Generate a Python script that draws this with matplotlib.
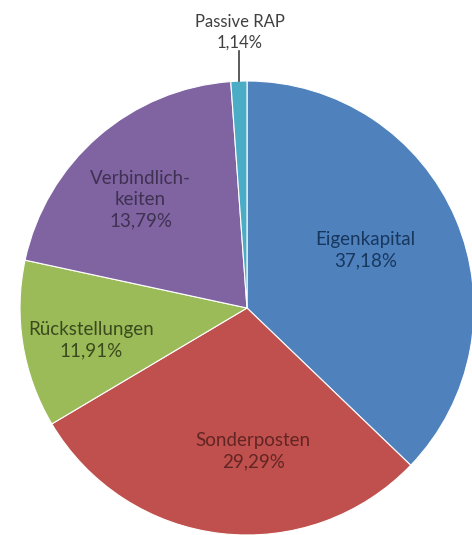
import numpy as np
import matplotlib.pyplot as plt

# slice sizes as drawn (clockwise from 12 o'clock)
categories = ["Eigenkapital", "Sonderposten", "Rückstellungen", "Verbindlichkeiten", "Passive RAP"]
values = [37.18, 29.29, 11.91, 20.48, 1.14]
label_texts = ["Eigenkapital\n37,18%", "Sonderposten\n29,29%", "Rückstellungen\n11,91%",
               "Verbindlich-\nkeiten\n13,79%", "Passive RAP\n1,14%"]

colors = ["#4F81BD", "#C0504D", "#9BBB59", "#8064A2", "#4BACC6"]
text_colors = ["#17375E", "#632523", "#3B4A1E", "#3F3151", "#404040"]

W, H = 472, 535
cx, cy, R = 247, 227, 227

fig = plt.figure(figsize=(W / 100, H / 100), dpi=100)
ax = fig.add_axes([0, 0, 1, 1])

wedges, _ = ax.pie(values, colors=colors, startangle=90, counterclock=False,
                   center=(cx, cy), radius=R, frame=True,
                   wedgeprops=dict(edgecolor="white", linewidth=0.8))
ax.set_xlim(0, W)
ax.set_ylim(0, H)
ax.set_aspect("equal")
ax.axis("off")

# label placement: (distance as fraction of radius, angle offset in degrees)
place = [(0.58, 3), (0.63, 9), (0.70, 2.5), (0.67, 3.5), (None, 0)]
for w, txt, tc, (d, off) in zip(wedges, label_texts, text_colors, place):
    mid = np.deg2rad((w.theta1 + w.theta2) / 2)
    if d is None:
        # outside label with leader line
        x0 = cx + R * np.cos(mid)
        y0 = cy + R * np.sin(mid)
        ax.plot([x0, x0], [y0, y0 + 30], color="#404040", linewidth=1.2)
        ax.text(x0 + 1, y0 + 31, txt, ha="center", va="bottom", color=tc,
                fontsize=12, family="Lato", linespacing=1.35)
        continue
    a = mid + np.deg2rad(off)
    x = cx + d * R * np.cos(a)
    y = cy + d * R * np.sin(a)
    ax.text(x, y, txt, ha="center", va="center", color=tc,
            fontsize=13.5, family="Lato", linespacing=1.3)

fig.savefig("out.png", dpi=100, facecolor="white")
